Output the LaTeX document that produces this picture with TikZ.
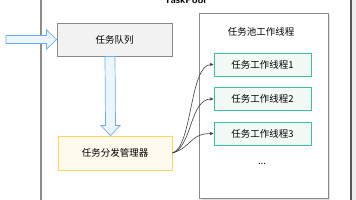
\documentclass[tikz,border=0pt]{standalone}
\usepackage{fontspec}
\setmainfont{Noto Sans CJK SC}
\usetikzlibrary{calc,arrows.meta}
\definecolor{qfill}{HTML}{F2F2F2}
\definecolor{qline}{HTML}{8A8A8A}
\definecolor{mfill}{HTML}{FFFAEE}
\definecolor{mline}{HTML}{FFD65C}
\definecolor{wfill}{HTML}{F3FAF6}
\definecolor{wline}{HTML}{3CC0A0}
\definecolor{afill}{HTML}{EEF6FD}
\definecolor{aline}{HTML}{6AAEF0}
\tikzset{
  box/.style={draw, line width=0.9pt, minimum width=#1, minimum height=33pt, inner sep=0pt, font=\fontsize{9.5}{11}\selectfont},
  worker/.style={draw=wline, fill=wfill, line width=0.9pt, minimum width=97pt, minimum height=23pt, inner sep=0pt, font=\fontsize{9.5}{11}\selectfont},
  blockarrow/.style={draw=aline, fill=afill, line width=0.7pt},
  link/.style={draw=black!75, line width=0.6pt, -{Stealth[length=4pt,width=3.5pt]}}
}
\begin{document}
\begin{tikzpicture}[x=1pt, y=-1pt]
  \useasboundingbox (0,0) rectangle (356,200);
  \fill[white] (0,0) rectangle (356,200);
  \fill[black!7] (352,0) rectangle (356,200);
  \draw[black!45, line width=1.2pt] (41,0) -- (41,200);
  \draw[black!65, line width=1.2pt] (351,0) -- (351,200);
  \node[font=\sffamily\bfseries\fontsize{10}{11}\selectfont, anchor=base] (title) at (185,4) {TaskPool};
  % task queue and dispatcher
  \node[box=115pt, draw=qline, fill=qfill] (queue) at (114.5,39.5) {任务队列};
  \node[box=114pt, draw=mline, fill=mfill, minimum height=34pt] (mgr) at (115,153) {任务分发管理器};
  % pool of workers
  \fill[black!12] (201,15) rectangle (330,200);
  \node[draw=qline, fill=white, line width=0.9pt, minimum width=129pt, minimum height=185pt, inner sep=0pt] (pool) at (263.5,105.5) {};
  \node[font=\fontsize{9.5}{11}\selectfont] (pooltitle) at (261,31.5) {任务池工作线程};
  \node[worker] (w1) at (262.5,64.5) {任务工作线程1};
  \node[worker] (w2) at (262.5,99) {任务工作线程2};
  \node[worker] (w3) at (262.5,133.5) {任务工作线程3};
  \node[font=\fontsize{9.5}{11}\selectfont] (dots) at (262,164) {...};
  % block arrows
  \coordinate (in) at (6,39.5);
  \draw[blockarrow] ($(in)+(0,-4)$) -- ($(queue.west)+(-10,-4)$) -- ($(queue.west)+(-10,-9.5)$)
    -- (queue.west) -- ($(queue.west)+(-10,9.5)$) -- ($(queue.west)+(-10,4)$) -- ($(in)+(0,4)$) -- cycle;
  \draw[blockarrow] ($(queue.south)+(-9.5,0)$) -- ($(mgr.north)+(-9.5,-10)$) -- ($(mgr.north)+(-14,-10)$)
    -- ($(mgr.north)+(-4.5,0)$) -- ($(mgr.north)+(5,-10)$) -- ($(mgr.north)+(0.5,-10)$) -- ($(queue.south)+(0.5,0)$) -- cycle;
  % dispatch links
  \foreach \w in {w1,w2,w3}
    \draw[link] (mgr.east) .. controls ($(mgr.east)+(20,-6)$) and ($(\w.west)+(-24,0)$) .. (\w.west);
\end{tikzpicture}
\end{document}
